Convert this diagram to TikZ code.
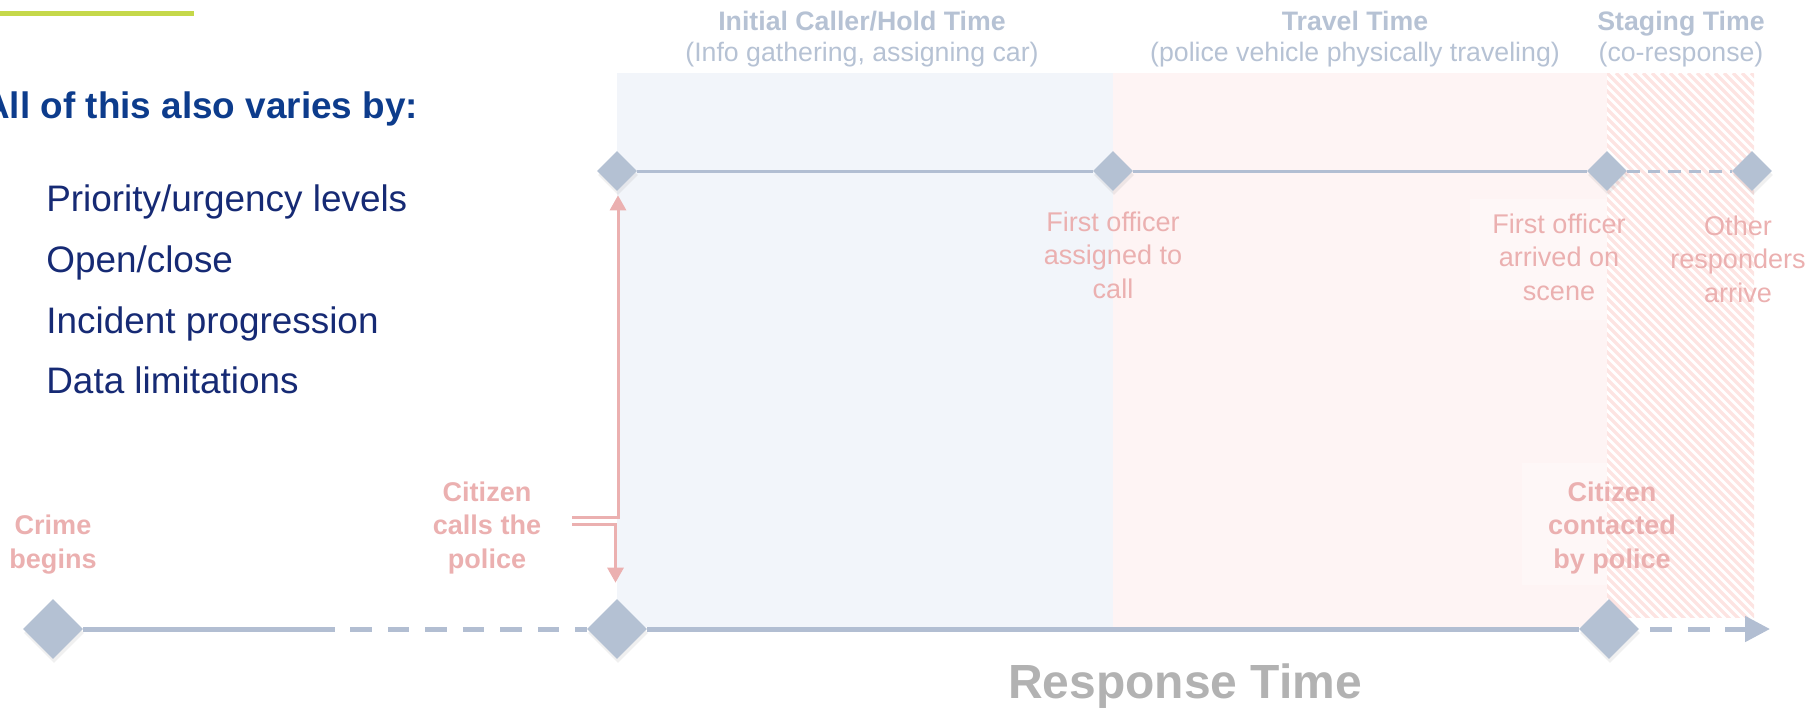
\documentclass[tikz,border=0pt]{standalone}
\usepackage{fontspec}
\setmainfont{Liberation Sans}
\usetikzlibrary{shapes.geometric,arrows.meta,shadows}

\definecolor{limegreen}{RGB}{197,216,74}
\definecolor{headblue}{RGB}{13,60,140}
\definecolor{itemblue}{RGB}{22,42,116}
\definecolor{evtpink}{RGB}{235,176,176}
\definecolor{phasegray}{RGB}{182,194,212}
\definecolor{diamfill}{RGB}{180,193,211}
\definecolor{linecol}{RGB}{178,190,210}
\definecolor{bluebg}{RGB}{242,245,250}
\definecolor{pinkbg}{RGB}{254,244,244}
\definecolor{hatchpink}{RGB}{253,228,226}
\definecolor{resgray}{RGB}{178,178,178}

\tikzset{
  milestone/.style={diamond, fill=diamfill, inner sep=0pt, minimum size=1.2cm,
    drop shadow={opacity=0.12, shadow xshift=0.02cm, shadow yshift=-0.08cm}},
  minimilestone/.style={milestone, minimum size=0.8cm},
  mainline/.style={draw=linecol, line width=0.1cm},
  topline/.style={draw=linecol, line width=0.06cm},
  evtlabel/.style={text=evtpink, font=\fontsize{15.4}{18.8}\selectfont\bfseries,
    align=center, inner sep=0pt, anchor=base},
  notelabel/.style={evtlabel, font=\fontsize{15.4}{18.8}\selectfont},
  phaselabel/.style={text=phasegray, font=\fontsize{15.2}{17.6}\selectfont,
    align=center, inner sep=0pt, anchor=base},
  itemlabel/.style={text=itemblue, font=\fontsize{21}{25}\selectfont,
    inner sep=0pt, anchor=base west},
  callarrow/.style={draw=evtpink, line width=0.06cm,
    -{Triangle[length=0.3cm,width=0.32cm]}},
}

\begin{document}
\begin{tikzpicture}[x=0.02cm,y=-0.02cm]
\useasboundingbox (0,0) rectangle (1808,708);

% accent bar and side list
\fill[limegreen] (0,11) rectangle (194,16);
\node[itemlabel, text=headblue, font=\fontsize{21}{25}\selectfont\bfseries] (varies) at (-17,118) {All of this also varies by:};
\node[itemlabel] (prio) at (46,211) {Priority/urgency levels};
\node[itemlabel] (open) at (46,272) {Open/close};
\node[itemlabel] (prog) at (46,333) {Incident progression};
\node[itemlabel] (data) at (46,393) {Data limitations};

% time bands
\fill[bluebg] (617,73) rectangle (1113,627);
\fill[pinkbg] (1113,73) rectangle (1607,627);
\fill[white, opacity=0.3] (1470,199) rectangle (1607,320);
\fill[white, opacity=0.3] (1522,463) rectangle (1607,585);
\begin{scope}
  \clip (1607,73) rectangle (1754,617);
  \foreach \k in {1040,1049,...,1760}
    \draw[hatchpink, line width=0.07cm] (\k,73) -- ++(560,560);
\end{scope}

% phase titles
\node[phaselabel] (hold) at (862,61) {\textbf{Initial Caller/Hold Time}\\(Info gathering, assigning car)};
\node[phaselabel] (travel) at (1355,61) {\textbf{Travel Time}\\(police vehicle physically traveling)};
\node[phaselabel] (staging) at (1681,61) {\textbf{Staging Time}\\(co-response)};

% upper timeline
\node[minimilestone] (d1) at (617,171) {};
\node[minimilestone] (d2) at (1113,171) {};
\node[minimilestone] (d3) at (1607,171) {};
\node[minimilestone] (d4) at (1752,171) {};
\draw[topline] (d1) -- (d2);
\draw[topline] (d2) -- (d3);
\draw[topline, dash pattern=on 0.25cm off 0.16cm] (d3) -- (d4);

\node[notelabel] (assigned) at (1113,298) {First officer\\assigned to\\call};
\node[notelabel] (arrived) at (1559,300) {First officer\\arrived on\\scene};
\node[notelabel] (others) at (1738,302) {Other\\responders\\arrive};

% lower timeline
\node[milestone] (b1) at (53,629) {};
\node[milestone] (b2) at (617,629) {};
\node[milestone] (b3) at (1609,629) {};
\coordinate (brk) at (313,629);
\coordinate (axisend) at (1770,629);
\draw[mainline] (b1) -- (brk);
\draw[mainline, dash pattern=on 0.43cm off 0.32cm] (brk) -- (b2);
\draw[mainline] (b2) -- (b3);
\draw[mainline, dash pattern=on 0.44cm off 0.31cm, shorten <=0.22cm,
  -{Triangle[length=0.5cm,width=0.5cm]}] (b3) -- (axisend);

\node[evtlabel] (crime) at (53,568) {Crime\\begins};
\node[evtlabel] (calls) at (487,568) {Citizen\\calls the\\police};
\node[evtlabel] (contact) at (1612,568) {Citizen\\contacted\\by police};

% call branches
\coordinate (callup) at (572,517);
\coordinate (calldown) at (572,524);
\draw[callarrow, shorten >=0.08cm] (callup) -| ([xshift=0.02cm]d1.south);
\draw[callarrow, shorten >=0.32cm] (calldown) -| ([xshift=-0.03cm]b2.north);

\node[text=resgray, font=\fontsize{27.3}{32}\selectfont\bfseries, inner sep=0pt, anchor=base] (resp) at (1185,698) {Response Time};
\end{tikzpicture}
\end{document}
